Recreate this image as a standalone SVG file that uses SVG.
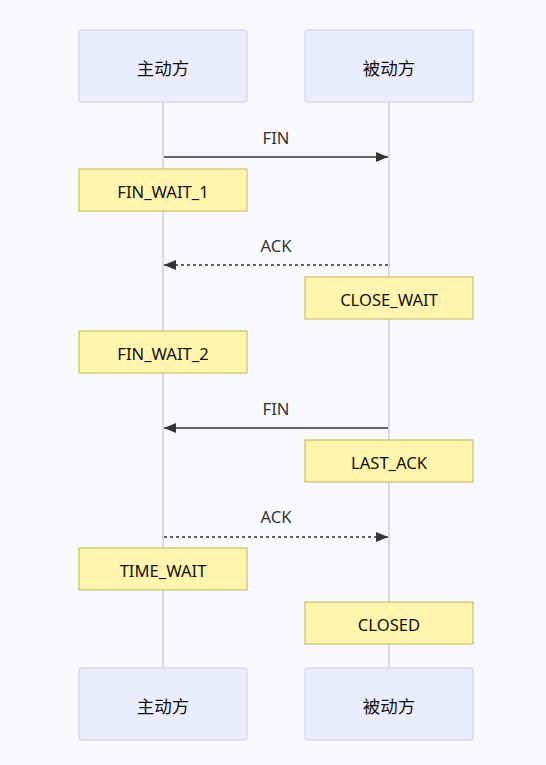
<svg xmlns="http://www.w3.org/2000/svg" width="546" height="765" viewBox="0 0 546 765">
<style>
.actor{fill:#ececff;stroke:#ddd6f3;stroke-width:1.5}
.life{stroke:#ddd3f5;stroke-width:2}
.note{fill:#fff5ad;stroke:#bdb84a;stroke-width:1}
.t{font-family:"Noto Sans CJK SC","Noto Sans",sans-serif;font-size:17.5px;fill:#111;text-anchor:middle;dominant-baseline:central}
.nt{font-family:"Noto Sans","Liberation Sans",sans-serif;font-size:16.6px;fill:#111;text-anchor:middle;dominant-baseline:central}
.ml{font-family:"Noto Sans","Liberation Sans",sans-serif;font-size:16.6px;fill:#333;text-anchor:middle;dominant-baseline:central}
.msg{stroke:#333;stroke-width:1.5;fill:none}
.dash{stroke-dasharray:3,3}
</style>
<defs>
<marker id="ah" viewBox="0 0 12 10" refX="12" refY="5" markerWidth="12" markerHeight="10" markerUnits="userSpaceOnUse" orient="auto">
<path d="M0,0 L12,5 L0,10 z" fill="#333"/>
</marker>
</defs>
<rect width="546" height="765" fill="#f8f9fc"/>
<g id="lifelines">
<line class="life" x1="163" y1="102" x2="163" y2="668"/>
<line class="life" x1="389" y1="102" x2="389" y2="668"/>
</g>
<g id="actor-a-top"><rect class="actor" x="79" y="30" width="168" height="72" rx="3"/><text class="t" x="163" y="67">主动方</text></g>
<g id="actor-b-top"><rect class="actor" x="305" y="30" width="168" height="72" rx="3"/><text class="t" x="389" y="67">被动方</text></g>
<g id="actor-a-bottom"><rect class="actor" x="79" y="668" width="168" height="72" rx="3"/><text class="t" x="163" y="705">主动方</text></g>
<g id="actor-b-bottom"><rect class="actor" x="305" y="668" width="168" height="72" rx="3"/><text class="t" x="389" y="705">被动方</text></g>
<g id="connectors">
<line class="msg" x1="164" y1="157" x2="388" y2="157" marker-end="url(#ah)"/>
<text class="ml" x="276" y="137">FIN</text>
<line class="msg dash" x1="388" y1="265" x2="164" y2="265" marker-end="url(#ah)"/>
<text class="ml" x="276" y="245">ACK</text>
<line class="msg" x1="388" y1="428" x2="164" y2="428" marker-end="url(#ah)"/>
<text class="ml" x="276" y="408">FIN</text>
<line class="msg dash" x1="164" y1="537" x2="388" y2="537" marker-end="url(#ah)"/>
<text class="ml" x="276" y="516">ACK</text>
</g>
<g id="note-fin-wait-1"><rect class="note" x="79" y="169" width="168" height="42"/><text class="nt" x="163" y="191">FIN_WAIT_1</text></g>
<g id="note-close-wait"><rect class="note" x="305" y="277" width="168" height="42"/><text class="nt" x="389" y="299">CLOSE_WAIT</text></g>
<g id="note-fin-wait-2"><rect class="note" x="79" y="331" width="168" height="42"/><text class="nt" x="163" y="353">FIN_WAIT_2</text></g>
<g id="note-last-ack"><rect class="note" x="305" y="440" width="168" height="42"/><text class="nt" x="389" y="462">LAST_ACK</text></g>
<g id="note-time-wait"><rect class="note" x="79" y="548" width="168" height="42"/><text class="nt" x="163" y="570">TIME_WAIT</text></g>
<g id="note-closed"><rect class="note" x="305" y="602" width="168" height="42"/><text class="nt" x="389" y="624">CLOSED</text></g>
</svg>
